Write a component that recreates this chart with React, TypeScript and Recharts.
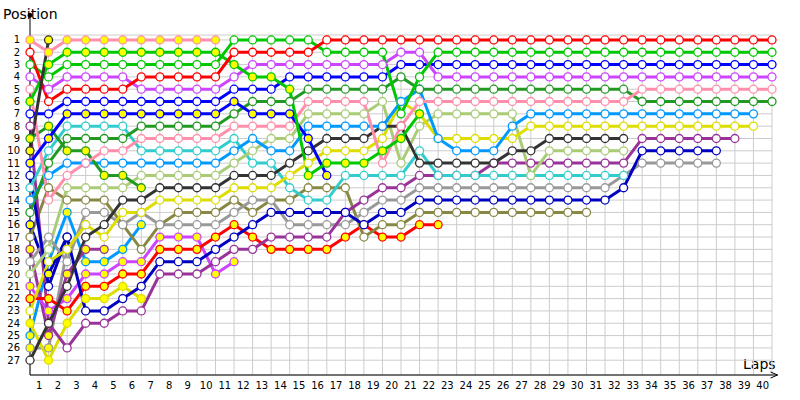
import {
  LineChart,
  Line,
  XAxis,
  YAxis,
  CartesianGrid,
  ReferenceLine,
  ReferenceDot,
} from "recharts";

const _ = null;

// laps 0 (grid) .. 40
const laps = [
  0, 1, 2, 3, 4, 5, 6, 7, 8, 9, 10, 11, 12, 13, 14, 15, 16, 17, 18, 19, 20,
  21, 22, 23, 24, 25, 26, 27, 28, 29, 30, 31, 32, 33, 34, 35, 36, 37, 38, 39, 40,
];
// lap labels sit between the grid lines
const lapTicks = [
  0.5, 1.5, 2.5, 3.5, 4.5, 5.5, 6.5, 7.5, 8.5, 9.5, 10.5, 11.5, 12.5, 13.5,
  14.5, 15.5, 16.5, 17.5, 18.5, 19.5, 20.5, 21.5, 22.5, 23.5, 24.5, 25.5, 26.5,
  27.5, 28.5, 29.5, 30.5, 31.5, 32.5, 33.5, 34.5, 35.5, 36.5, 37.5, 38.5, 39.5,
];
const positionTicks = [
  1, 2, 3, 4, 5, 6, 7, 8, 9, 10, 11, 12, 13, 14, 15, 16, 17, 18, 19, 20, 21,
  22, 23, 24, 25, 26, 27,
];

// position per lap (index = lap)
const pinkY = [1, 2, 1, 1, 1, 1, 1, 1, 1, 1, 1, _, _, _, _, _, _, _, _, _, _, _, _, _, _, _, _, _, _, _, _, _, _, _, _, _, _, _, _, _, _];
const redW = [2, 6, 5, 5, 5, 5, 4, 4, 4, 4, 4, 2, 2, 2, 2, 2, 1, 1, 1, 1, 1, 1, 1, 1, 1, 1, 1, 1, 1, 1, 1, 1, 1, 1, 1, 1, 1, 1, 1, 1, 1];
const greenW = [3, 4, 3, 3, 3, 3, 3, 3, 3, 3, 3, 1, 1, 1, 1, 1, 2, 2, 2, 2, 7, 4, 2, 2, 2, 2, 2, 2, 2, 2, 2, 2, 2, 2, 2, 2, 2, 2, 2, 2, 2];
const magW = [4, 5, 4, 4, 4, 4, 5, 5, 5, 5, 5, 4, 3, 3, 3, 3, 3, 3, 3, 3, 2, 2, 4, 4, 4, 4, 4, 4, 4, 4, 4, 4, 4, 4, 4, 4, 4, 4, 4, 4, 4];
const pinkW = [5, 14, 12, 11, 10, 10, 9, 9, 9, 9, 9, 8, 8, 8, 8, 6, 6, 6, 6, 11, 8, 6, 6, 6, 6, 6, 6, 6, 6, 6, 6, 6, 6, 5, 5, 5, 5, 5, 5, 5, 5];
const greenY = [6, 3, 2, 2, 2, 2, 2, 2, 2, 2, 2, 3, 4, 4, 5, 12, 11, 11, 11, 10, 9, 7, _, _, _, _, _, _, _, _, _, _, _, _, _, _, _, _, _, _, _];
const blueW = [7, 7, 6, 6, 6, 6, 6, 6, 6, 6, 6, 5, 5, 5, 4, 4, 4, 4, 4, 4, 3, 3, 3, 3, 3, 3, 3, 3, 3, 3, 3, 3, 3, 3, 3, 3, 3, 3, 3, 3, 3];
const violetW = [8, 24, 26, 24, 24, 23, 23, 20, 20, 20, 19, 18, 18, 17, 17, 17, 17, 15, 14, 13, 13, 12, 12, 12, 12, 11, 11, 11, 11, 11, 11, 11, 11, 9, 9, 9, 9, 9, 9, _, _];
const dgY = [9, 8, 10, 10, 12, 12, 13, _, _, _, _, _, _, _, _, _, _, _, _, _, _, _, _, _, _, _, _, _, _, _, _, _, _, _, _, _, _, _, _, _, _];
const dkgrayY = [10, 1, _, _, _, _, _, _, _, _, _, _, _, _, _, _, _, _, _, _, _, _, _, _, _, _, _, _, _, _, _, _, _, _, _, _, _, _, _, _, _];
const blueY = [11, 9, 7, 7, 7, 7, 7, 7, 7, 7, 7, 6, 7, 7, 7, 9, 12, _, _, _, _, _, _, _, _, _, _, _, _, _, _, _, _, _, _, _, _, _, _, _, _];
const dblueW = [12, 21, 17, 23, 23, 22, 21, 19, 19, 19, 18, 17, 16, 15, 15, 15, 15, 15, 16, 15, 15, 14, 14, 14, 14, 14, 14, 14, 14, 14, 14, 14, 13, 10, 10, 10, 10, 10, _, _, _];
const cyanW = [13, 10, 8, 8, 8, 8, 10, 10, 10, 10, 10, 9, 11, 11, 13, 14, 14, 12, 12, 12, 12, 10, 12, 12, 12, 12, 12, 12, 12, 12, 12, 12, 12, _, _, _, _, _, _, _, _];
const lbW = [14, 12, 11, 11, 11, 11, 11, 11, 11, 11, 11, 10, 9, 10, 10, 8, 8, 8, 8, 8, 6, 5, 9, 10, 10, 10, 8, 7, 7, 7, 7, 7, 7, 7, 7, 7, 7, 7, 7, 7, _];
const dgW = [15, 11, 9, 9, 9, 9, 8, 8, 8, 8, 8, 7, 6, 6, 6, 5, 5, 5, 5, 5, 4, 5, 5, 5, 5, 5, 5, 5, 5, 5, 5, 5, 5, 6, 6, 6, 6, 6, 6, 6, 6];
const dblueY = [16, 20, 17, _, _, _, _, _, _, _, _, _, _, _, _, _, _, _, _, _, _, _, _, _, _, _, _, _, _, _, _, _, _, _, _, _, _, _, _, _, _];
const oliveW = [17, 13, 14, 14, 14, 16, 18, 16, 15, 15, 15, 14, 15, 14, 14, 13, 13, 13, 17, 16, 16, 15, 15, 15, 15, 15, 15, 15, 15, 15, 15, _, _, _, _, _, _, _, _, _, _];
const violetY = [18, 25, 20, 18, 18, _, _, _, _, _, _, _, _, _, _, _, _, _, _, _, _, _, _, _, _, _, _, _, _, _, _, _, _, _, _, _, _, _, _, _, _];
const grayW = [19, 17, 19, 15, 15, 16, 15, 16, 16, 16, 16, 15, 14, 14, 16, 16, 16, 16, 15, 14, 14, 13, 13, 13, 13, 13, 13, 13, 13, 13, 13, 13, 12, 11, 11, 11, 11, 11, _, _, _];
const lgW = [20, 18, 13, 13, 13, 13, 12, 12, 12, 12, 12, 11, 10, 9, 9, 7, 7, 7, 7, 6, 11, 8, 7, 7, 7, 7, 7, 12, 10, 10, 10, 10, 10, _, _, _, _, _, _, _, _];
const magY = [21, 23, 22, 20, 20, 19, 19, 17, 17, 17, 20, 19, _, _, _, _, _, _, _, _, _, _, _, _, _, _, _, _, _, _, _, _, _, _, _, _, _, _, _, _, _];
const redY = [22, 22, 23, 21, 21, 20, 20, 18, 18, 18, 17, 16, 17, 18, 18, 18, 18, 17, 16, 17, 17, 16, 16, _, _, _, _, _, _, _, _, _, _, _, _, _, _, _, _, _, _];
const yelW = [23, 19, 18, 16, 17, 15, 15, 14, 14, 14, 14, 13, 13, 13, 12, 11, 10, 10, 10, 9, 6, 7, 9, 9, 9, 9, 9, 8, 8, 8, 8, 8, 8, 8, 8, 8, 8, 8, 8, 8, _];
const yelY = [24, 27, 24, 22, 22, 21, 22, _, _, _, _, _, _, _, _, _, _, _, _, _, _, _, _, _, _, _, _, _, _, _, _, _, _, _, _, _, _, _, _, _, _];
const lbY = [25, 19, 15, 19, 19, 18, 16, _, _, _, _, _, _, _, _, _, _, _, _, _, _, _, _, _, _, _, _, _, _, _, _, _, _, _, _, _, _, _, _, _, _];
const grayY = [26, 26, 18, 16, _, _, _, _, _, _, _, _, _, _, _, _, _, _, _, _, _, _, _, _, _, _, _, _, _, _, _, _, _, _, _, _, _, _, _, _, _];
const dkgrayW = [27, 24, 21, 17, 16, 14, 14, 13, 13, 13, 13, 12, 12, 12, 11, 10, 9, 9, 9, 8, 8, 11, 11, 11, 11, 11, 10, 10, 9, 9, 9, 9, 9, _, _, _, _, _, _, _, _];

const PINK = "#ff8fab";
const RED = "#ff0000";
const GREEN = "#00c800";
const MAGENTA = "#cc44ff";
const BLUE = "#0000ff";
const VIOLET = "#993399";
const DKGREEN = "#229922";
const DKGRAY = "#333333";
const DKBLUE = "#0000c0";
const CYAN = "#33cccc";
const LTBLUE = "#0099ff";
const OLIVE = "#888844";
const GRAY = "#999999";
const LTGREEN = "#aacc77";
const YELLOW = "#dddd00";

const WHITE = "#ffffff";
const YFILL = "#ffff00";

const series = [
  { key: "grayY", color: GRAY, fill: YFILL, pos: grayY },
  { key: "lbY", color: LTBLUE, fill: YFILL, pos: lbY },
  { key: "yelY", color: YELLOW, fill: YFILL, pos: yelY },
  { key: "violetY", color: VIOLET, fill: YFILL, pos: violetY },
  { key: "dblueY", color: DKBLUE, fill: YFILL, pos: dblueY },
  { key: "magY", color: MAGENTA, fill: YFILL, pos: magY },
  { key: "redY", color: RED, fill: YFILL, pos: redY },
  { key: "oliveW", color: OLIVE, fill: WHITE, pos: oliveW },
  { key: "grayW", color: GRAY, fill: WHITE, pos: grayW },
  { key: "violetW", color: VIOLET, fill: WHITE, pos: violetW },
  { key: "dblueW", color: DKBLUE, fill: WHITE, pos: dblueW },
  { key: "cyanW", color: CYAN, fill: WHITE, pos: cyanW },
  { key: "lgW", color: LTGREEN, fill: WHITE, pos: lgW },
  { key: "yelW", color: YELLOW, fill: WHITE, pos: yelW },
  { key: "dkgrayW", color: DKGRAY, fill: WHITE, pos: dkgrayW },
  { key: "lbW", color: LTBLUE, fill: WHITE, pos: lbW },
  { key: "dgY", color: DKGREEN, fill: YFILL, pos: dgY },
  { key: "dgW", color: DKGREEN, fill: WHITE, pos: dgW },
  { key: "pinkW", color: PINK, fill: WHITE, pos: pinkW },
  { key: "blueY", color: BLUE, fill: YFILL, pos: blueY },
  { key: "blueW", color: BLUE, fill: WHITE, pos: blueW },
  { key: "magW", color: MAGENTA, fill: WHITE, pos: magW },
  { key: "greenY", color: GREEN, fill: YFILL, pos: greenY },
  { key: "greenW", color: GREEN, fill: WHITE, pos: greenW },
  { key: "pinkY", color: PINK, fill: YFILL, pos: pinkY },
  { key: "redW", color: RED, fill: WHITE, pos: redW },
  { key: "dkgrayY", color: DKGRAY, fill: YFILL, pos: dkgrayY },
];

const data = laps.map((lap, i) => {
  const row: Record<string, number | null> = { lap };
  series.forEach((s) => {
    row[s.key] = s.pos[i];
  });
  return row;
});

const tickStyle = { fontSize: 10, fill: "#000", fontFamily: "DejaVu Sans" };

// vertical grid on every lap, through the markers
function lapGrid(p: any): number[] {
  const s = p?.xAxis?.scale;
  if (typeof s === "function") return laps.map((l) => s(l));
  if (s && typeof s.map === "function") return laps.map((l) => s.map(l));
  const { left, width } = p.offset;
  return laps.map((l) => left + (l / 40) * width);
}

function Arrow({ cx, cy }: { cx?: number; cy?: number }) {
  if (cx == null || cy == null) return null;
  return (
    <path
      d={`M${cx - 7},${cy - 3} L${cx},${cy} L${cx - 7},${cy + 3}`}
      fill="none"
      stroke="#000"
      strokeWidth={1}
    />
  );
}

export default function App() {
  return (
    <div style={{ position: "relative", width: 800, height: 400, background: "#fff" }}>
      <style>{`body{margin:0}`}</style>
      <div
        style={{
          position: "absolute",
          left: 3,
          top: 6,
          fontFamily: "DejaVu Sans",
          fontSize: 14,
          color: "#000",
        }}
      >
        Position
      </div>
      <div
        style={{
          position: "absolute",
          left: 743,
          top: 356,
          fontFamily: "DejaVu Sans",
          fontSize: 14,
          color: "#000",
        }}
      >
        Laps
      </div>
      <LineChart
        width={800}
        height={400}
        data={data}
        margin={{ top: 35, right: 0, bottom: 0, left: 0 }}
      >
        <XAxis
          xAxisId="lap"
          dataKey="lap"
          type="number"
          domain={[0, 40]}
          ticks={laps}
          interval={0}
          tick={false}
          tickLine={false}
          axisLine={false}
          height={0}
        />
        <XAxis
          xAxisId="label"
          dataKey="lap"
          type="number"
          domain={[0, 40]}
          ticks={lapTicks}
          interval={0}
          tickFormatter={(v: number) => String(v + 0.5)}
          tick={tickStyle}
          tickLine={false}
          tickSize={0}
          tickMargin={7}
          axisLine={{ stroke: "#000" }}
          height={25}
        />
        <YAxis
          yAxisId="left"
          type="number"
          reversed
          domain={[0.6, 28.2]}
          ticks={positionTicks}
          interval={0}
          tick={tickStyle}
          tickLine={false}
          tickSize={0}
          tickMargin={10}
          axisLine={{ stroke: "#000" }}
          width={30}
        />
        <YAxis
          yAxisId="right"
          orientation="right"
          type="number"
          reversed
          domain={[0.6, 28.2]}
          ticks={positionTicks}
          interval={0}
          tick={tickStyle}
          tickLine={false}
          tickSize={0}
          tickMargin={5}
          axisLine={false}
          width={28}
        />
        <CartesianGrid
          xAxisId="lap"
          yAxisId="left"
          stroke="#cccccc"
          verticalCoordinatesGenerator={lapGrid}
        />
        <ReferenceLine
          xAxisId="lap"
          yAxisId="left"
          segment={[
            { x: 0, y: -1 },
            { x: 0, y: 0.6 },
          ]}
          stroke="#000"
          ifOverflow="visible"
        />
        <ReferenceDot
          xAxisId="lap"
          yAxisId="left"
          x={0}
          y={-1}
          r={2}
          fill="#000"
          stroke="#000"
          ifOverflow="visible"
        />
        <ReferenceLine
          xAxisId="lap"
          yAxisId="left"
          segment={[
            { x: 40, y: 28.2 },
            { x: 40.3, y: 28.2 },
          ]}
          stroke="#000"
          ifOverflow="visible"
        />
        <ReferenceDot
          xAxisId="lap"
          yAxisId="left"
          x={40.3}
          y={28.2}
          ifOverflow="visible"
          shape={(p: any) => <Arrow cx={p.cx} cy={p.cy} />}
        />
        {series.map((s) => (
          <Line
            key={s.key}
            xAxisId="lap"
            yAxisId="left"
            dataKey={s.key}
            stroke={s.color}
            strokeWidth={3}
            dot={{ r: 4, fill: s.fill, stroke: s.color, strokeWidth: 1.3 }}
            activeDot={false}
            isAnimationActive={false}
            connectNulls={false}
          />
        ))}
      </LineChart>
    </div>
  );
}
